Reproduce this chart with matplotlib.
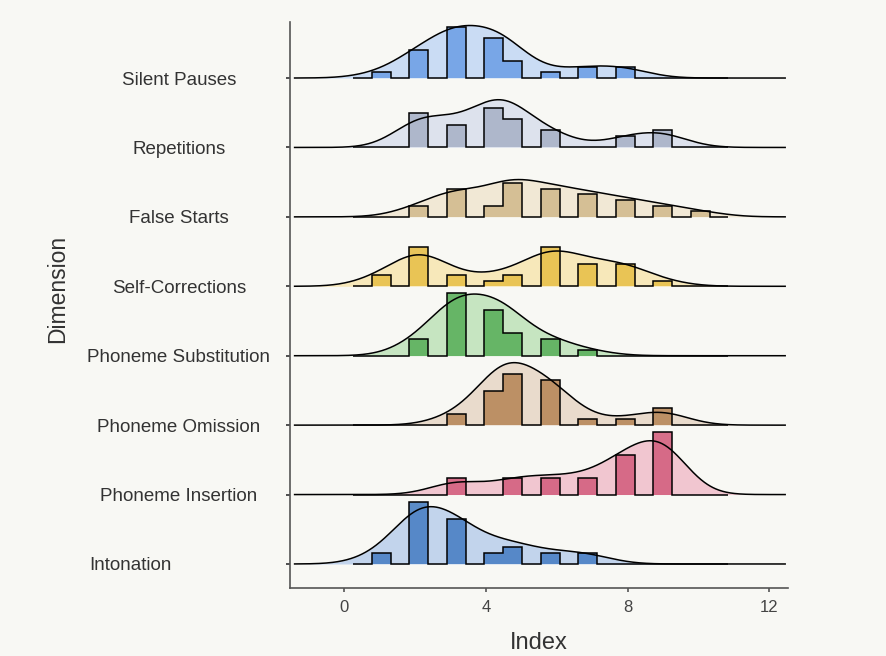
import numpy as np
import matplotlib.pyplot as plt
from matplotlib.transforms import ScaledTranslation

plt.rcParams["font.family"] = ["Liberation Sans", "DejaVu Sans"]

BG = "#f8f8f4"
INK = "#333333"

# rows from bottom to top
dimensions = [
    "Intonation", "Phoneme Insertion", "Phoneme Omission", "Phoneme Substitution",
    "Self-Corrections", "False Starts", "Repetitions", "Silent Pauses",
]

# histogram bins (20 bins) and counts per bin (n = 30 per row)
bin_edges = np.linspace(0.25, 10.85, 21)

intonation = [0, 2, 0, 11, 0, 8, 0, 2, 3, 0, 2, 0, 2, 0, 0, 0, 0, 0, 0, 0]
phoneme_insertion = [0, 0, 0, 0, 0, 3, 0, 0, 3, 0, 3, 0, 3, 0, 7, 0, 11, 0, 0, 0]
phoneme_omission = [0, 0, 0, 0, 0, 2, 0, 6, 9, 0, 8, 0, 1, 0, 1, 0, 3, 0, 0, 0]
phoneme_substitution = [0, 0, 0, 3, 0, 11, 0, 8, 4, 0, 3, 0, 1, 0, 0, 0, 0, 0, 0, 0]
self_corrections = [0, 2, 0, 7, 0, 2, 0, 1, 2, 0, 7, 0, 4, 0, 4, 0, 1, 0, 0, 0]
false_starts = [0, 0, 0, 2, 0, 5, 0, 2, 6, 0, 5, 0, 4, 0, 3, 0, 2, 0, 1, 0]
repetitions = [0, 0, 0, 6, 0, 4, 0, 7, 5, 0, 3, 0, 0, 0, 2, 0, 3, 0, 0, 0]
silent_pauses = [0, 1, 0, 5, 0, 9, 0, 7, 3, 0, 1, 0, 2, 0, 2, 0, 0, 0, 0, 0]

counts = [intonation, phoneme_insertion, phoneme_omission, phoneme_substitution,
          self_corrections, false_starts, repetitions, silent_pauses]

# (bar colour, density fill colour)
palette = [
    ("#4a80c4", "#c2d4ec"),
    ("#d4607f", "#f1c6d0"),
    ("#b8885a", "#e9dbcc"),
    ("#5cb05c", "#c6e5c1"),
    ("#e8c04a", "#f7e8ba"),
    ("#d2bb8e", "#f1e8d5"),
    ("#a9b3c8", "#dde2ed"),
    ("#6fa0e6", "#cadcf4"),
]

BW = 0.75           # kde bandwidth
COUNT_H = 0.0816    # ridge height of one observation in the histogram
PEAK_H = 0.9        # height of the tallest density curve

grid = np.linspace(-1.4, 12.45, 700)
centers = 0.5 * (bin_edges[:-1] + bin_edges[1:])


def kde(cnt):
    w = np.asarray(cnt, float)
    d = (grid[:, None] - centers[None, :]) / BW
    return (np.exp(-0.5 * d ** 2) * w).sum(axis=1) / (w.sum() * BW * np.sqrt(2 * np.pi))


dens = [kde(c) for c in counts]
curve_scale = PEAK_H / max(d.max() for d in dens)

fig = plt.figure(figsize=(8.87, 6.56), dpi=100)
fig.patch.set_facecolor(BG)
ax = fig.add_axes([290 / 887, 1 - 588 / 656, 498 / 887, 566 / 656])
ax.set_facecolor(BG)

n = len(dimensions)
for i, (cnt, d, (dark, light)) in enumerate(zip(counts, dens, palette)):
    z = 10 + (n - i) * 1.0
    top = i + d * curve_scale
    ax.fill_between(grid, i, top, color=light, lw=0, zorder=z)
    h = i + np.asarray(cnt) * COUNT_H
    ax.stairs(h, bin_edges, baseline=i, fill=True, color=dark, alpha=0.9, lw=0, zorder=z + 0.1)
    ax.stairs(h, bin_edges, baseline=i, fill=False, color="black", lw=1.1, zorder=z + 0.2)
    ax.plot(grid, top, color="black", lw=1.1, zorder=z + 0.3)

ax.set_xlim(-1.53, 12.53)
ax.set_ylim(-0.346, 7.807)

for s in ("top", "right"):
    ax.spines[s].set_visible(False)
for s in ("left", "bottom"):
    ax.spines[s].set_color("#555555")
    ax.spines[s].set_linewidth(1.2)

ax.set_xticks([0, 4, 8, 12])
ax.tick_params(axis="x", length=3, width=1.2, color="#555555",
               labelsize=12, labelcolor="#444444", pad=6)

ax.set_yticks(range(n), dimensions)
ax.tick_params(axis="y", length=3, width=1.2, color="#333333",
               labelsize=13.5, labelcolor=INK, pad=77)
for lbl in ax.get_yticklabels():
    lbl.set_ha("center")
    if lbl.get_text() == "Intonation":
        lbl.set_transform(lbl.get_transform()
                          + ScaledTranslation(-0.485, 0, fig.dpi_scale_trans))

ax.set_xlabel("Index", fontsize=17, color=INK)
ax.xaxis.set_label_coords(0.5, -0.0786)
ax.set_ylabel("Dimension", fontsize=16.5, color=INK, va="center")
ax.yaxis.set_label_coords(-0.466, 0.528)

fig.savefig("out.png", dpi=100, facecolor=BG)
